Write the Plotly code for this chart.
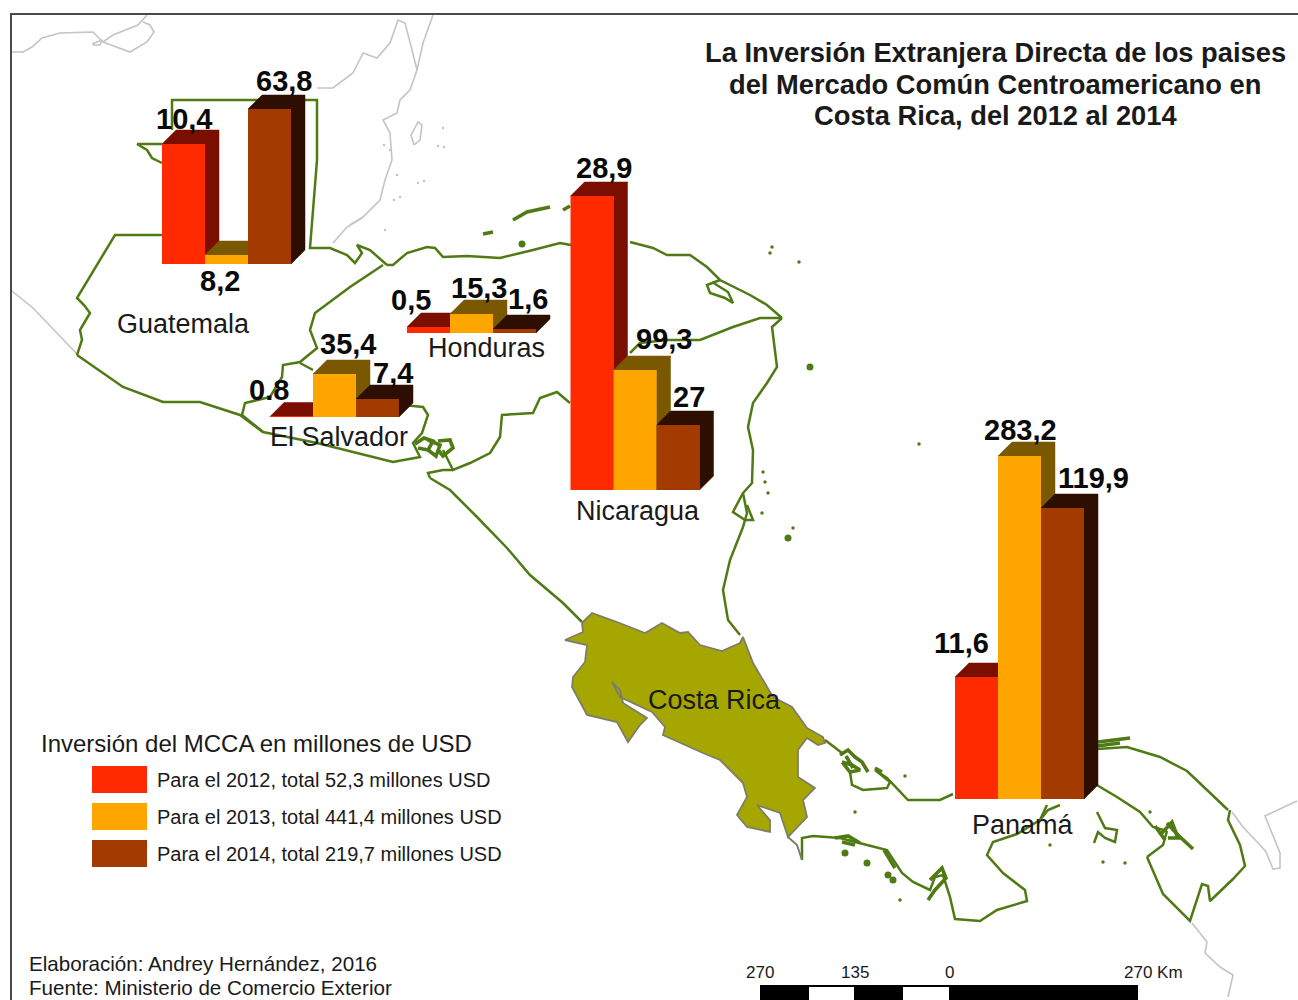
import plotly.graph_objects as go

# ---------- data ----------
countries = ["Guatemala", "El Salvador", "Honduras", "Nicaragua", "Panamá"]
labels_2012 = ["10,4", "0.8", "0,5", "28,9", "11,6"]
labels_2013 = ["8,2", "35,4", "15,3", "99,3", "283,2"]
labels_2014 = ["63,8", "7,4", "1,6", "27", "119,9"]
# drawn heights of the bars (the source chart is not to scale)
drawn_2012 = [120, 0.5, 6, 294, 122]
drawn_2013 = [9, 43, 19, 120, 343]
drawn_2014 = [155, 18, 4, 65, 291]
years = ["2012", "2013", "2014"]
legend_title = "Inversión del MCCA en millones de USD"
legend_entries = ["Para el 2012, total 52,3 millones USD",
                  "Para el 2013, total 441,4 millones USD",
                  "Para el 2014, total 219,7 millones USD"]
title_lines = ["La Inversión Extranjera Directa de los paises",
               "del Mercado Común Centroamericano en",
               "Costa Rica, del 2012 al 2014"]
footer_lines = ["Elaboración: Andrey Hernández, 2016", "Fuente: Ministerio de Comercio Exterior"]
scale_labels = ["270", "135", "0", "270 Km"]

# ---------- placement ----------
group_left = [162, 270, 407, 570.5, 955]
group_base = [264, 417, 333, 490, 799]
BAR_W = 43
DEPTH = 14
value_label_pos = {
    "2012": [(184, 119), (269, 390), (411, 300), (604, 168), (961, 643)],
    "2013": [(220, 281), (348, 344), (479, 288), (664, 339), (1020, 430)],
    "2014": [(284, 81), (393, 373), (528, 299), (689, 397), (1093, 478)],
}
country_label_pos = [(183, 324), (339, 437), (486, 348), (638, 511), (1023, 825)]
FRONT = ["#ff2a00", "#ffa500", "#a33a00"]
DARK = ["#7a0e00", "#7a5800", "#2e0e00"]
GREEN = "#4f7a14"
GREY = "#c4c4c4"

# ---------- base map outlines (image-space geography) ----------
green_lines = [
    # Guatemala
    [(77,355),(82,340),(80,330),(90,313),(84,305),(77,298),(115,235),(162,235)],
    [(137,144),(162,144)], [(137,144),(147,150),(152,158),(162,163)],
    [(172,130),(172,100),(317,100),(317,160),(310,248),(330,248),(347,255),(355,263),(362,253),(357,245),(370,250),(387,265)],
    # Honduras north coast to Cabo Gracias
    [(387,265),(393,265),(407,253),(427,247),(435,248),(443,257),(467,256),(500,258),(533,250),(560,243),(571,245)],
    [(630,242),(653,248),(667,255),(690,255),(707,267),(720,280),(750,295),(767,305),(782,318)],
    [(720,280),(707,285),(710,293),(725,298),(733,303),(728,292),(712,282)],
    # Nicaragua Caribbean coast
    [(782,318),(772,327),(777,367),(767,383),(753,403),(748,427),(753,450),(752,483),(743,493),(747,513),(743,527),(730,560),(723,590),(728,620),(740,635)],
    [(743,493),(733,512),(745,520),(753,520),(747,505)],
    # Honduras / Nicaragua border
    [(782,318),(760,318),(733,327),(700,340),(667,340),(640,343),(630,353)],
    [(570,403),(557,392),(540,398),(533,413),(502,415),(500,437),(490,453),(470,463),(453,470),(443,450)],
    # Guatemala / Honduras / El Salvador
    [(383,265),(350,287),(315,313),(310,330),(317,348),(300,362),(283,365),(282,377),(270,397),(245,403),(242,415),(263,432)],
    [(300,363),(313,370)],
    [(403,405),(423,407),(428,415),(422,433),(413,443),(420,457),(393,462),(353,452),(317,443),(263,432),(240,415),(200,402),(163,402),(123,387),(77,355)],
    [(430,478),(428,473),(443,470),(453,470)],
    # Nicaragua Pacific coast
    [(430,478),(450,490),(477,517),(507,548),(530,575),(563,603),(582,622)],
    # Panama Caribbean
    [(825,740),(842,753)],
    [(850,772),(852,785),(863,790),(887,788),(890,782),(875,770),(887,778),(908,800),(917,800),(940,800),(953,794)],
    [(1095,784),(1117,797),(1140,812),(1153,827),(1167,831)],
    # Panama Pacific
    [(802,860),(802,838),(813,836),(840,838),(867,845),(887,850),(902,873),(913,882),(930,890),(935,877),(943,875),(950,897),(955,919),(980,921),(997,910),(1027,901),(1025,890),(1003,873),(987,855),(993,842),(1017,834),(1040,820),(1047,805)],
    [(1147,857),(1163,845),(1167,831)],
    [(1147,857),(1163,894),(1190,921),(1198,897),(1202,884),(1208,886),(1210,901),(1233,879),(1245,866),(1240,845),(1228,820),(1230,810)],
    [(1097,749),(1127,747),(1160,757),(1187,771),(1207,790),(1228,810)],
    [(1097,812),(1105,828),(1117,830),(1115,842),(1105,838),(1098,832),(1094,843)],
    [(1040,820),(1048,810),(1060,805)],
]
thick_green = [
    # Bay islands
    [(513,220),(527,212),(550,207)], [(483,234),(493,232)], [(563,210),(570,206)],
    # Gulf of Fonseca
    [(415,444),(424,438),(433,441),(428,450),(418,448)], [(428,440),(440,445),(436,456),(428,450)],
    [(438,441),(450,440),(453,448),(443,456),(438,450)],
    # Bocas del Toro tangle
    [(840,755),(848,750),(855,757),(862,762),(868,772)], [(842,762),(852,765),(860,770),(850,772),(842,762)],
    [(846,756),(853,768)], [(875,768),(882,772)],
    # Gulf of Chiriqui and Azuero
    [(835,838),(848,836),(860,843)], [(842,842),(855,845)], [(884,850),(895,868)],
    [(930,880),(942,868),(946,878),(935,890),(928,900)],
    # Panama bay tangle
    [(1167,823),(1178,835),(1193,849)], [(1160,835),(1172,822),(1178,838),(1168,838)], [(1155,826),(1165,840)],
    [(1098,742),(1130,738)], [(1097,746),(1120,743)],
]
grey_lines = [
    [(12,52),(23,52),(32,47),(42,38),(60,33),(93,32),(103,42),(113,35),(138,25),(147,15)],
    [(103,42),(130,52),(147,42),(154,32),(150,25),(143,22)],
    [(92,44),(102,40),(100,45),(93,45)],
    [(433,15),(423,43),(417,70),(410,90),(400,100),(397,113),(383,120),(390,133),(392,160),(385,180),(380,200),(363,217),(347,227),(333,243)],
    [(317,88),(333,88),(353,73),(363,53),(377,58),(390,43),(398,20),(405,23),(412,50),(417,70)],
    [(12,291),(33,308),(77,354)],
    [(414,145),(411,135),(418,122),(422,125),(420,140),(414,145)],
    [(1232,812),(1243,827),(1260,845),(1266,852),(1273,869),(1280,868),(1280,853),(1272,834),(1265,816),(1297,801)],
    [(1192,923),(1207,942),(1205,953),(1220,967),(1233,975),(1228,997)],
    [(350,225),(362,218)],
]
green_dots = [(770,253),(772,247),(799,262),(763,472),(765,482),(768,493),(793,528),(762,513),
              (919,444),(905,776),(900,900),(855,812),(1050,845),(1125,863),(1103,862),(1150,812)]
green_blobs = [(522,244),(810,367),(788,538),(845,853),(867,863),(888,875),(893,880)]
grey_dots = [(443,128),(438,146),(444,147),(390,150),(397,175),(394,200),(400,197),(385,230),(418,183),(424,181),(384,145)]
costa_rica = [(582,623),(592,613),(617,622),(645,633),(662,623),(680,633),(688,632),(700,645),(722,651),(740,643),(743,637),
              (753,663),(773,697),(792,707),(807,728),(823,737),(825,743),(818,745),(807,738),(798,750),(798,777),(815,788),
              (803,800),(807,817),(788,837),(780,813),(757,805),(770,820),(770,832),(747,827),(737,815),(747,797),(743,783),
              (720,760),(703,753),(680,743),(663,735),(665,727),(652,712),(620,697),(612,682),(620,690),(623,703),(647,718),
              (640,725),(628,742),(617,722),(587,715),(572,687),(573,677),(585,662),(587,645),(565,640),(583,632),(582,623)]
cr_tail = [(788,837),(797,845),(802,860)]


def up(py):
    return 1000 - py


fig = go.Figure()


def add_line(pts, color, width):
    fig.add_trace(go.Scatter(x=[p[0] for p in pts], y=[up(p[1]) for p in pts], mode="lines",
                             line=dict(color=color, width=width), hoverinfo="skip", showlegend=False))


def add_dots(pts, color, size):
    fig.add_trace(go.Scatter(x=[p[0] for p in pts], y=[up(p[1]) for p in pts], mode="markers",
                             marker=dict(color=color, size=size), hoverinfo="skip", showlegend=False))


for seg in grey_lines:
    add_line(seg, GREY, 1.6)
for seg in green_lines:
    add_line(seg, GREEN, 2.5)
for seg in thick_green:
    add_line(seg, GREEN, 3.6)
add_dots(green_dots, GREEN, 3.5)
add_dots(green_blobs, GREEN, 7)
add_dots(grey_dots, GREY, 2.5)
fig.add_trace(go.Scatter(x=[p[0] for p in costa_rica], y=[up(p[1]) for p in costa_rica], mode="lines",
                         fill="toself", fillcolor="#a6a600", line=dict(color="#7d7d6a", width=1.8),
                         hoverinfo="skip", showlegend=False))
add_line(cr_tail, "#7d7d6a", 2)

# side and top faces (second layer), back to front
heights = [drawn_2012, drawn_2013, drawn_2014]
for g in range(len(countries)):
    for s in range(3):
        x0 = group_left[g] + s * BAR_W
        x1 = x0 + BAR_W
        b = up(group_base[g])
        t = b + heights[s][g]
        xs = [x0, x1, x1 + DEPTH, x1 + DEPTH, x1, x1, x1 + DEPTH, x0 + DEPTH, x0]
        ys = [t, t, t + DEPTH, b + DEPTH, b, t, t + DEPTH, t + DEPTH, t]
        fig.add_trace(go.Scatter(x=xs, y=ys, mode="lines", fill="toself", fillcolor=DARK[s],
                                 line=dict(color=DARK[s], width=0.5), xaxis="x2", yaxis="y2",
                                 hoverinfo="skip", showlegend=False))

# front faces (third layer)
for s, yr in enumerate(years):
    fig.add_trace(go.Bar(
        x=[group_left[g] + (s + 0.5) * BAR_W for g in range(len(countries))],
        y=heights[s], base=[up(b) for b in group_base], width=BAR_W,
        marker=dict(color=FRONT[s], line=dict(width=0)), name=yr, xaxis="x3", yaxis="y3",
        hoverinfo="skip", showlegend=False))

annotations = []


def text(px, py, s, size, bold=False, anchor="center", color="#1a1a1a"):
    annotations.append(dict(x=px, y=up(py), xref="x", yref="y", text=f"<b>{s}</b>" if bold else s,
                            showarrow=False, xanchor=anchor, yanchor="middle",
                            font=dict(family="Liberation Sans", size=size, color=color)))


for ln, py in zip(title_lines, [52, 84, 115]):
    text(995, py, ln, 27.3, True)
for yr, labs in zip(years, [labels_2012, labels_2013, labels_2014]):
    for lab, (px, py) in zip(labs, value_label_pos[yr]):
        text(px, py, lab, 29, True, color="#0a0a0a")
for name, (px, py) in zip(countries, country_label_pos):
    text(px, py, name, 27)
text(714, 700, "Costa Rica", 27)
text(39, 743, legend_title, 24, anchor="left")
for ln, py in zip(legend_entries, [780, 817, 854]):
    text(155, py, ln, 20, anchor="left")
for ln, py in zip(footer_lines, [963, 987]):
    text(27, py, ln, 20.6, anchor="left")
for lab, px in zip(scale_labels, [760, 855, 949, 1153]):
    text(px, 972, lab, 17)

shapes = []
for i, (y0, y1) in enumerate([(766, 793), (803, 830), (840, 867)]):
    shapes.append(dict(type="rect", xref="x", yref="y", x0=92, x1=147, y0=up(y0), y1=up(y1),
                       fillcolor=FRONT[i], line=dict(width=0)))
shapes.append(dict(type="rect", xref="x", yref="y", x0=760, x1=1138, y0=up(985), y1=0,
                   fillcolor="black", line=dict(width=0)))
for x0, x1 in [(809, 854), (903, 949)]:
    shapes.append(dict(type="rect", xref="x", yref="y", x0=x0, x1=x1, y0=up(987), y1=0,
                       fillcolor="white", line=dict(width=0)))
shapes.append(dict(type="path", xref="x", yref="y",
                   path=f"M 11 0 L 11 {up(14)} L 1298 {up(14)}", line=dict(color="#4a4a4a", width=2)))

hidden = dict(visible=False, range=[0, 1298], fixedrange=True)
hiddeny = dict(visible=False, range=[0, 1000], fixedrange=True)
fig.update_layout(
    width=1298, height=1000, margin=dict(l=0, r=0, t=0, b=0), autosize=False,
    paper_bgcolor="white", plot_bgcolor="white", barmode="overlay", showlegend=False,
    xaxis=dict(hidden, domain=[0, 1]), yaxis=dict(hiddeny, domain=[0, 1]),
    xaxis2=dict(hidden, overlaying="x"), yaxis2=dict(hiddeny, overlaying="y"),
    xaxis3=dict(hidden, overlaying="x"), yaxis3=dict(hiddeny, overlaying="y"),
    annotations=annotations, shapes=shapes,
)
fig.write_html("out.html", config=dict(displayModeBar=False),
               post_script="document.body.style.margin='0';document.body.style.overflow='hidden';")
